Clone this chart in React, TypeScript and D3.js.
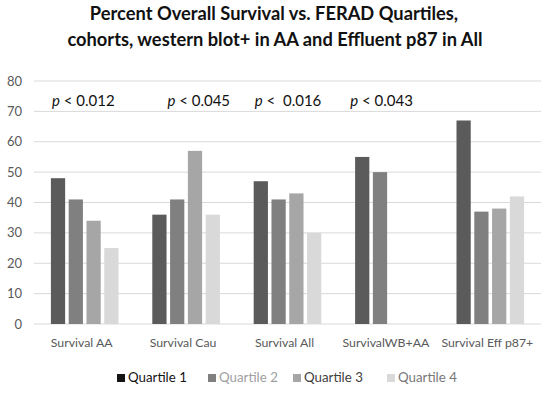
import React from 'react';
import * as d3 from 'd3';

const categories = ['Survival AA', 'Survival Cau', 'Survival All', 'SurvivalWB+AA', 'Survival Eff p87+'];
const seriesNames = ['Quartile 1', 'Quartile 2', 'Quartile 3', 'Quartile 4'];
const quartile1 = [48, 36, 47, 55, 67];
const quartile2 = [41, 41, 41, 50, 37];
const quartile3 = [34, 57, 43, null, 38];
const quartile4 = [25, 36, 30, null, 42];
const pLabels = ['0.012', '0.045', ' 0.016', '0.043'];
const yTicks = [0, 10, 20, 30, 40, 50, 60, 70, 80];

const barColors = ['#5b5b5b', '#808080', '#a6a6a6', '#d9d9d9'];
const legendSwatch = ['#141414', '#808080', '#a6a6a6', '#d9d9d9'];
const legendText = ['#141414', '#a0a0a0', '#404040', '#777777'];

const W = 550;
const H = 393;
const margin = { top: 81, right: 9, bottom: 69, left: 34 };
const font = 'Lato, "Open Sans", sans-serif';

export default function App() {
  const series = [quartile1, quartile2, quartile3, quartile4];

  const x = d3.scaleBand<string>()
    .domain(categories)
    .range([margin.left, W - margin.right])
    .paddingInner(0)
    .paddingOuter(0);

  const xInner = d3.scaleBand<string>()
    .domain(seriesNames)
    .range([0, x.bandwidth()])
    .paddingInner(0.2)
    .paddingOuter(0.95);

  const y = d3.scaleLinear().domain([0, 80]).range([H - margin.bottom, margin.top]);

  // annotation offsets inside each band, as placed in the original
  const pOffset = [18, 32, 18, 12];
  const legendX = [117, 208, 293, 387];

  return (
    <svg width={W} height={H} style={{ position: 'absolute', left: 0, top: 0, background: '#fff' }}>
      <text x={W / 2 - 1} y={20} textAnchor="middle" fontFamily={font} fontWeight="bold" fontSize={18.3} fill="#111">
        Percent Overall Survival vs. FERAD Quartiles,
      </text>
      <text x={W / 2} y={46} textAnchor="middle" fontFamily={font} fontWeight="bold" fontSize={18.3} fill="#111">
        cohorts, western blot+ in AA and Effluent p87 in All
      </text>

      {yTicks.map(t => (
        <g key={t}>
          <line x1={margin.left} x2={W - margin.right} y1={y(t)} y2={y(t)} stroke="#d9d9d9" strokeWidth={1} />
          <text x={22} y={y(t) + 4.5} textAnchor="end" fontFamily={font} fontSize={13} fill="#595959">{t}</text>
        </g>
      ))}

      {categories.map((c, ci) => (
        <g key={c}>
          {series.map((s, si) => {
            const v = s[ci];
            if (v == null) return null;
            return (
              <rect key={si}
                x={(x(c) ?? 0) + (xInner(seriesNames[si]) ?? 0)}
                y={y(v)}
                width={xInner.bandwidth()}
                height={y(0) - y(v)}
                fill={barColors[si]} />
            );
          })}
          <text x={(x(c) ?? 0) + x.bandwidth() / 2 - 3} y={347} textAnchor="middle" fontFamily={font} fontSize={12.3} fill="#595959">{c}</text>
        </g>
      ))}

      {pLabels.map((p, i) => (
        <text key={i} x={(x(categories[i]) ?? 0) + pOffset[i]} y={106} fontFamily={font} fontSize={15} fill="#111" style={{ whiteSpace: 'pre' }}>
          <tspan fontStyle="italic">p</tspan>{' < ' + p}
        </text>
      ))}

      {seriesNames.map((n, i) => (
        <g key={n}>
          <rect x={legendX[i]} y={374} width={8} height={8} fill={legendSwatch[i]} />
          <text x={legendX[i] + 11} y={382} fontFamily={font} fontSize={13.3} fill={legendText[i]}>{n}</text>
        </g>
      ))}
    </svg>
  );
}
